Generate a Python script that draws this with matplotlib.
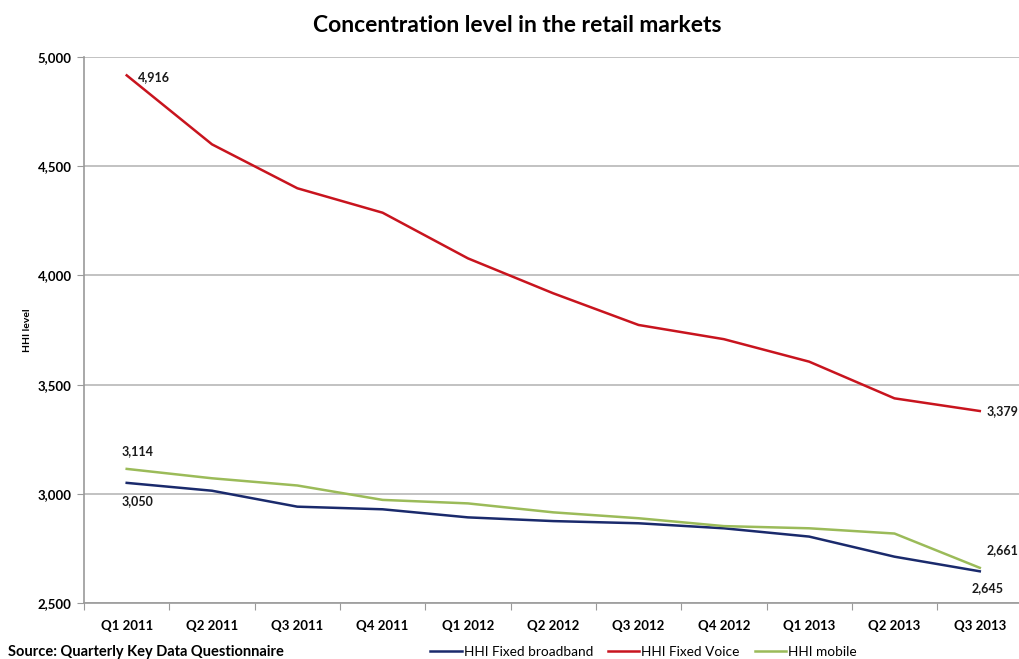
import matplotlib
matplotlib.use("Agg")
import matplotlib.pyplot as plt
from matplotlib.ticker import FuncFormatter, FixedLocator, NullFormatter

quarters = ["Q1 2011", "Q2 2011", "Q3 2011", "Q4 2011", "Q1 2012", "Q2 2012",
            "Q3 2012", "Q4 2012", "Q1 2013", "Q2 2013", "Q3 2013"]
fixed_broadband = [3050, 3014, 2941, 2929, 2892, 2875, 2865, 2842, 2804, 2712, 2645]
fixed_voice = [4916, 4600, 4399, 4287, 4078, 3918, 3773, 3708, 3605, 3437, 3379]
mobile = [3114, 3071, 3038, 2972, 2956, 2915, 2888, 2852, 2842, 2818, 2661]

plt.rcParams['font.family'] = ['Lato', 'DejaVu Sans']

fig = plt.figure(figsize=(10.2, 6.59), dpi=100)
ax = fig.add_axes([0.0824, 0.085, 0.92, 0.8285])

x = list(range(len(quarters)))
c_bb, c_fv, c_mob = "#1a2a6c", "#c8141e", "#9bbb59"
ax.plot(x, fixed_broadband, color=c_bb, lw=1.8, label="HHI Fixed broadband")
ax.plot(x, fixed_voice, color=c_fv, lw=1.8, label="HHI Fixed Voice")
ax.plot(x, mobile, color=c_mob, lw=1.8, label="HHI mobile")

ax.set_xlim(-0.5, len(quarters) - 0.5)
ax.set_ylim(2500, 5000)
ax.set_yticks([2500, 3000, 3500, 4000, 4500, 5000])
ax.yaxis.set_major_formatter(FuncFormatter(lambda v, p: f"{int(v):,}"))
ax.grid(axis="y", color="#b8b8b8", lw=1.2)
ax.set_axisbelow(True)

ax.xaxis.set_major_locator(FixedLocator([i - 0.5 for i in range(len(quarters) + 1)]))
ax.xaxis.set_major_formatter(NullFormatter())
ax.xaxis.set_minor_locator(FixedLocator(x))
ax.set_xticklabels(quarters, minor=True)
ax.tick_params(axis="x", which="major", length=5, color="#9a9a9a", direction="out")
ax.tick_params(axis="x", which="minor", length=0, pad=12, labelsize=9.5)
ax.tick_params(axis="y", length=5, color="#9a9a9a", labelsize=9.5, pad=4)
for lbl in ax.get_xticklabels(minor=True) + ax.get_yticklabels():
    lbl.set_fontweight("bold")

for side in ["top", "right"]:
    ax.spines[side].set_visible(False)
for side in ["left", "bottom"]:
    ax.spines[side].set_color("#9a9a9a")
    ax.spines[side].set_linewidth(1.2)

ax.set_ylabel("HHI level", fontsize=7.5, fontweight="bold", labelpad=4)

# value labels at the first and last quarter
kw = dict(fontsize=9, fontweight="bold", color="#1a1a1a")
ax.annotate(f"{fixed_voice[0]:,}", (x[0], fixed_voice[0]), xytext=(8, -1),
            textcoords="offset points", ha="left", va="center", **kw)
ax.annotate(f"{mobile[0]:,}", (x[0], mobile[0]), xytext=(-4, 13),
            textcoords="offset points", ha="left", va="center", **kw)
ax.annotate(f"{fixed_broadband[0]:,}", (x[0], fixed_broadband[0]), xytext=(-4, -13),
            textcoords="offset points", ha="left", va="center", **kw)
ax.annotate(f"{fixed_voice[-1]:,}", (x[-1], fixed_voice[-1]), xytext=(5, 0),
            textcoords="offset points", ha="left", va="center", annotation_clip=False, **kw)
ax.annotate(f"{mobile[-1]:,}", (x[-1], mobile[-1]), xytext=(5, 13),
            textcoords="offset points", ha="left", va="center", **kw)
ax.annotate(f"{fixed_broadband[-1]:,}", (x[-1], fixed_broadband[-1]), xytext=(-6, -12),
            textcoords="offset points", ha="left", va="center", **kw)

fig.text(0.507, 0.962, "Concentration level in the retail markets", ha="center", va="center",
         fontsize=16.5, fontweight="bold")
fig.text(0.008, 0.011, "Source: Quarterly Key Data Questionnaire", ha="left", va="center",
         fontsize=10.5, fontweight="bold")

fig.legend(loc="center", bbox_to_anchor=(0.631, 0.011), ncol=3, frameon=False,
           fontsize=9.8, handlelength=2.3, handletextpad=0.15, columnspacing=1.1,
           borderaxespad=0, borderpad=0)

fig.savefig("out.png", dpi=100)
